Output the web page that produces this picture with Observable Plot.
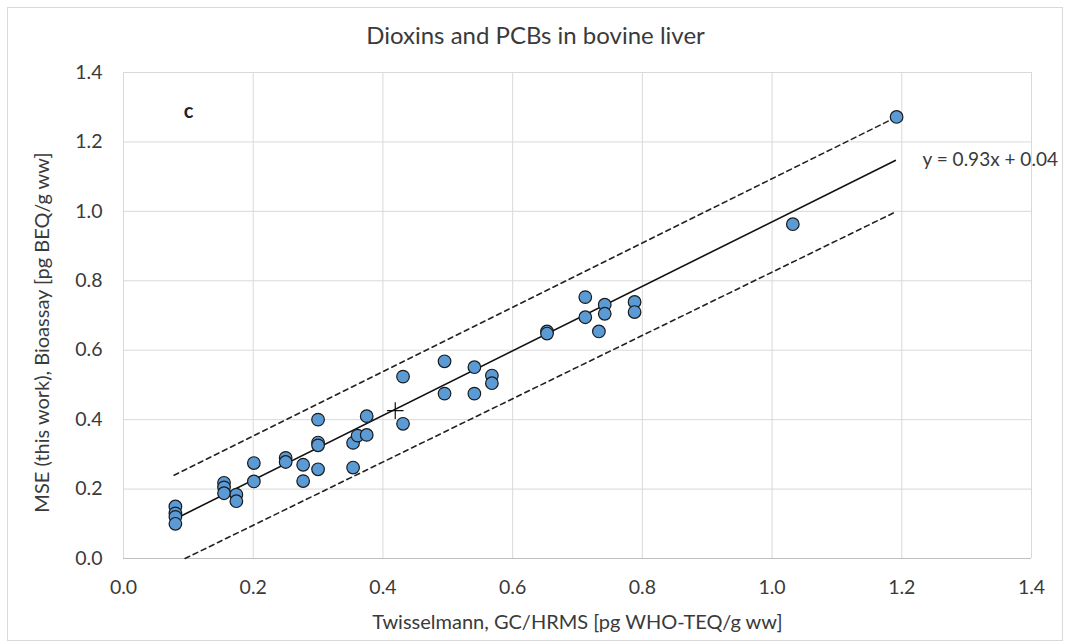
<!DOCTYPE html>
<html>
<head>
<meta charset="utf-8">
<script src="https://cdn.jsdelivr.net/npm/d3@7"></script>
<script src="https://cdn.jsdelivr.net/npm/@observablehq/plot@0.6"></script>
<style>
  html, body { margin: 0; padding: 0; background: #fff; }
  #wrap { position: relative; width: 1071px; height: 644px; overflow: hidden; font-family: Lato, "Noto Sans", sans-serif; }
  #frame { position: absolute; left: 7px; top: 7px; width: 1056px; height: 634px; border: 1px solid #d9d9d9; box-sizing: border-box; }
  #title { position: absolute; left: 0; top: 0; width: 1071px; height: 60px; text-align: center; font-size: 24px; line-height: 24px; padding-top: 23px; box-sizing: border-box; color: #3a3a3a; }
  #chart { position: absolute; left: 0; top: 60px; }
</style>
</head>
<body>
<div id="wrap">
  <div id="frame"></div>
  <div id="title">Dioxins and PCBs in bovine liver</div>
  <div id="chart"></div>
</div>
<script>
// GC/HRMS (Twisselmann) values, x
const gcHrms = [
  0.08, 0.08, 0.08, 0.08,
  0.155, 0.155, 0.155,
  0.174, 0.174,
  0.201, 0.201,
  0.250, 0.250,
  0.277, 0.277,
  0.300, 0.300, 0.300, 0.300,
  0.354, 0.354,
  0.361,
  0.375, 0.375,
  0.431, 0.431,
  0.495, 0.495,
  0.541, 0.541,
  0.568, 0.568,
  0.653, 0.653,
  0.712, 0.712,
  0.742, 0.742,
  0.733,
  0.788, 0.788,
  1.032,
  1.192
];
// Bioassay (MSE, this work) values, y
const bioassay = [
  0.150, 0.130, 0.120, 0.100,
  0.218, 0.205, 0.188,
  0.184, 0.165,
  0.275, 0.222,
  0.290, 0.278,
  0.270, 0.223,
  0.400, 0.334, 0.326, 0.257,
  0.333, 0.262,
  0.354,
  0.410, 0.356,
  0.524, 0.388,
  0.568, 0.475,
  0.551, 0.475,
  0.527, 0.505,
  0.654, 0.648,
  0.753, 0.695,
  0.731, 0.705,
  0.654,
  0.739, 0.710,
  0.963,
  1.272
];
// Mean point (cross)
const meanX = [0.419];
const meanY = [0.426];
// Regression: y = 0.93x + 0.04
const slope = 0.93;
const intercept = 0.04;
const fitRange = [0.078, 1.19];
// Dashed band lines (endpoints)
const upperX = [0.078, 1.192];
const upperY = [0.240, 1.272];
const lowerX = [0.095, 1.19];
const lowerY = [0.0, 0.998];
// Axis ticks
const xTicks = [0, 0.2, 0.4, 0.6, 0.8, 1.0, 1.2, 1.4];
const yTicks = [0, 0.2, 0.4, 0.6, 0.8, 1.0, 1.2, 1.4];
// Labels
const xLabel = "Twisselmann, GC/HRMS [pg WHO-TEQ/g ww]";
const yLabel = "MSE (this work), Bioassay [pg BEQ/g ww]";
const eqLabel = "y = 0.93x + 0.04";
const panelLabel = "c";
const eqPos = {x: 1.232, y: 1.147};
const panelPos = {x: 0.093, y: 1.288};

const points = gcHrms.map((x, i) => ({x, y: bioassay[i]}));
const fitLine = fitRange.map(x => ({x, y: slope * x + intercept}));
const upper = upperX.map((x, i) => ({x, y: upperY[i]}));
const lower = lowerX.map((x, i) => ({x, y: lowerY[i]}));
const meanPt = meanX.map((x, i) => ({x, y: meanY[i]}));

const textColor = "#3a3a3a";

const chart = Plot.plot({
  width: 1071,
  height: 584,
  marginTop: 12,
  marginBottom: 86,
  marginLeft: 123,
  marginRight: 40,
  style: {fontFamily: "Lato, 'Noto Sans', sans-serif", fontSize: "19.5px", color: textColor, background: "transparent"},
  x: {domain: [0, 1.4]},
  y: {domain: [0, 1.4]},
  marks: [
    Plot.gridX(xTicks, {stroke: "#d9d9d9", strokeOpacity: 1, strokeWidth: 1}),
    Plot.gridY(yTicks, {stroke: "#d9d9d9", strokeOpacity: 1, strokeWidth: 1}),
    Plot.ruleY([0], {stroke: "#bfbfbf", strokeWidth: 1.2}),
    Plot.axisX(xTicks, {tickSize: 0, tickPadding: 22, tickFormat: d3.format(".1f"), label: null, fill: textColor}),
    Plot.axisY(yTicks, {tickSize: 0, tickPadding: 21, tickFormat: d3.format(".1f"), label: null, fill: textColor}),
    Plot.line(upper, {x: "x", y: "y", stroke: "#222", strokeWidth: 1.6, strokeDasharray: "5,4"}),
    Plot.line(lower, {x: "x", y: "y", stroke: "#222", strokeWidth: 1.6, strokeDasharray: "5,4"}),
    Plot.line(fitLine, {x: "x", y: "y", stroke: "#111", strokeWidth: 1.6}),
    Plot.dot(points, {x: "x", y: "y", r: 6.3, fill: "#5b9bd5", stroke: "#1a1a1a", strokeWidth: 1.2}),
    Plot.dot(meanPt, {x: "x", y: "y", r: 5.4, symbol: "plus", stroke: "#111", strokeWidth: 1.2}),
    Plot.text([eqLabel], {x: eqPos.x, y: eqPos.y, text: d => d, textAnchor: "start", fontSize: 19, fill: textColor}),
    Plot.text([panelLabel], {x: panelPos.x, y: panelPos.y, text: d => d, textAnchor: "start", fontSize: 20, fontWeight: "bold", fill: "#222"}),
    Plot.text([xLabel], {frameAnchor: "bottom", dy: 64, lineAnchor: "middle", text: d => d, fontSize: 20, fill: textColor}),
    Plot.text([yLabel], {frameAnchor: "left", dx: -81, dy: 17, rotate: -90, textAnchor: "middle", lineAnchor: "middle", text: d => d, fontSize: 20, fill: textColor})
  ]
});
document.getElementById("chart").appendChild(chart);
</script>
</body>
</html>
